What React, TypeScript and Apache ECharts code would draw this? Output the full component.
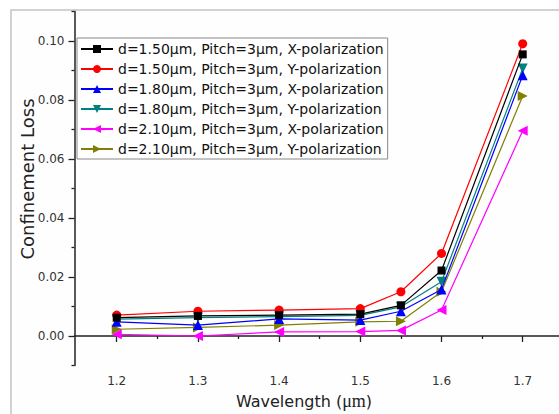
import React, { useEffect, useRef } from "react";
import * as echarts from "echarts";

const wavelengths = [1.2, 1.3, 1.4, 1.5, 1.55, 1.6, 1.7];
const d150X = [0.0062, 0.0068, 0.0071, 0.0074, 0.0104, 0.0222, 0.0955];
const d150Y = [0.0071, 0.0084, 0.0088, 0.0093, 0.015, 0.028, 0.0991];
const d180X = [0.0048, 0.0037, 0.0058, 0.0054, 0.0084, 0.0158, 0.0884];
const d180Y = [0.0057, 0.0062, 0.0066, 0.007, 0.0099, 0.0184, 0.0907];
const d210X = [0.0006, 0.0, 0.0014, 0.0015, 0.0019, 0.0088, 0.0696];
const d210Y = [0.0023, 0.0029, 0.0037, 0.0048, 0.005, 0.015, 0.0814];

const seriesNames = [
  "d=1.50μm, Pitch=3μm, X-polarization",
  "d=1.50μm, Pitch=3μm, Y-polarization",
  "d=1.80μm, Pitch=3μm, X-polarization",
  "d=1.80μm, Pitch=3μm, Y-polarization",
  "d=2.10μm, Pitch=3μm, X-polarization",
  "d=2.10μm, Pitch=3μm, Y-polarization",
];
const seriesValues = [d150X, d150Y, d180X, d180Y, d210X, d210Y];
const seriesColors = ["#000000", "#ff0000", "#0000ff", "#008080", "#ff00ff", "#808000"];
const seriesSymbols = ["rect", "circle", "triangle", "triangle", "triangle", "triangle"];
const seriesRotations = [0, 0, 0, 180, 90, -90];
const seriesSizes = [8, 9, 10, 10, 10, 10];

const xMajorTicks = [1.2, 1.3, 1.4, 1.5, 1.6, 1.7];
const xMinorTicks = [1.25, 1.35, 1.45, 1.55, 1.65, 1.75];
const yMajorTicks = [0, 0.02, 0.04, 0.06, 0.08, 0.1];
const yMinorTicks = [-0.01, 0.01, 0.03, 0.05, 0.07, 0.09, 0.11];

const FONT = "DejaVu Sans";

export default function App() {
  const ref = useRef<HTMLDivElement>(null);
  useEffect(() => {
    if (!ref.current) return;
    const chart = echarts.init(ref.current, null, { renderer: "svg" });
    const axisLine = { show: true, lineStyle: { color: "#222", width: 1.5 } };
    const option: any = {
      animation: false,
      backgroundColor: "#ffffff",
      grid: { left: 74.5, top: 11.6, right: 56.7, bottom: 48.5, containLabel: false },
      graphic: [
        {
          type: "rect",
          z: -10,
          shape: { x: 11, y: 10, width: 700, height: 500 },
          style: { fill: "#fefefe", stroke: "#c4c4c4", lineWidth: 1.5 },
        },
        {
          type: "text",
          x: 27,
          y: 179,
          rotation: Math.PI / 2,
          style: {
            text: "Confinement Loss",
            font: `18px "${FONT}"`,
            fill: "#222",
            textAlign: "center",
            textVerticalAlign: "middle",
            align: "center",
            verticalAlign: "middle",
          },
        },
        {
          type: "text",
          x: 304,
          y: 401,
          style: {
            text: "{a|Wavelength (}{b|μm}{a|)}",
            rich: {
              a: { fontFamily: FONT, fontSize: 16, fill: "#222", color: "#222" },
              b: { fontFamily: "Liberation Serif", fontSize: 18, fill: "#222", color: "#222" },
            },
            fill: "#222",
            textAlign: "center",
            textVerticalAlign: "middle",
            align: "center",
            verticalAlign: "middle",
          },
        },
      ],
      legend: {
        orient: "vertical",
        left: 77,
        top: 38,
        padding: [4, 4, 3, 3],
        itemGap: 6,
        itemWidth: 32,
        itemHeight: 10,
        backgroundColor: "#ffffff",
        borderColor: "#888",
        borderWidth: 1,
        borderRadius: 0,
        textStyle: { fontFamily: FONT, fontSize: 14, color: "#111" },
        data: seriesNames,
      },
      xAxis: [
        {
          type: "value",
          min: 1.148,
          max: 1.75,
          position: "bottom",
          axisLine,
          splitLine: { show: false },
          axisTick: { show: true, length: 6, customValues: xMajorTicks, lineStyle: { color: "#222", width: 1.3 } },
          axisLabel: {
            customValues: xMajorTicks,
            formatter: (v: number) => v.toFixed(1),
            fontFamily: FONT,
            fontSize: 12,
            color: "#333",
            margin: 9,
          },
        },
        {
          type: "value",
          min: 1.148,
          max: 1.75,
          position: "bottom",
          axisLine: { show: false },
          splitLine: { show: false },
          axisTick: { show: true, length: 3, customValues: xMinorTicks, lineStyle: { color: "#222", width: 1.3 } },
          axisLabel: { show: false },
        },
      ],
      yAxis: [
        {
          type: "value",
          min: -0.01,
          max: 0.11,
          position: "left",
          axisLine,
          splitLine: { show: false },
          axisTick: { show: true, length: 6, customValues: yMajorTicks, lineStyle: { color: "#222", width: 1.3 } },
          axisLabel: {
            customValues: yMajorTicks,
            formatter: (v: number) => v.toFixed(2),
            fontFamily: FONT,
            fontSize: 12,
            color: "#333",
            margin: 10,
          },
        },
        {
          type: "value",
          min: -0.01,
          max: 0.11,
          position: "left",
          axisLine: { show: false },
          splitLine: { show: false },
          axisTick: { show: true, length: 3, customValues: yMinorTicks, lineStyle: { color: "#222", width: 1.3 } },
          axisLabel: { show: false },
        },
      ],
      series: seriesNames.map((name, i) => ({
        name,
        type: "line",
        xAxisIndex: 0,
        yAxisIndex: 0,
        data: wavelengths.map((w, j) => [w, seriesValues[i][j]]),
        symbol: seriesSymbols[i],
        symbolSize: seriesSizes[i],
        symbolRotate: seriesRotations[i],
        showAllSymbol: true,
        lineStyle: { color: seriesColors[i], width: 1.2 },
        itemStyle: { color: seriesColors[i] },
        emphasis: { disabled: true },
        z: 2 + (5 - i),
      })),
    };
    chart.setOption(option);
    return () => chart.dispose();
  }, []);
  return (
    <div
      style={{
        position: "fixed",
        left: 0,
        top: 0,
        width: 559,
        height: 414,
        overflow: "hidden",
        background: "#fff",
      }}
    >
      <div ref={ref} style={{ width: 620, height: 414 }} />
    </div>
  );
}
